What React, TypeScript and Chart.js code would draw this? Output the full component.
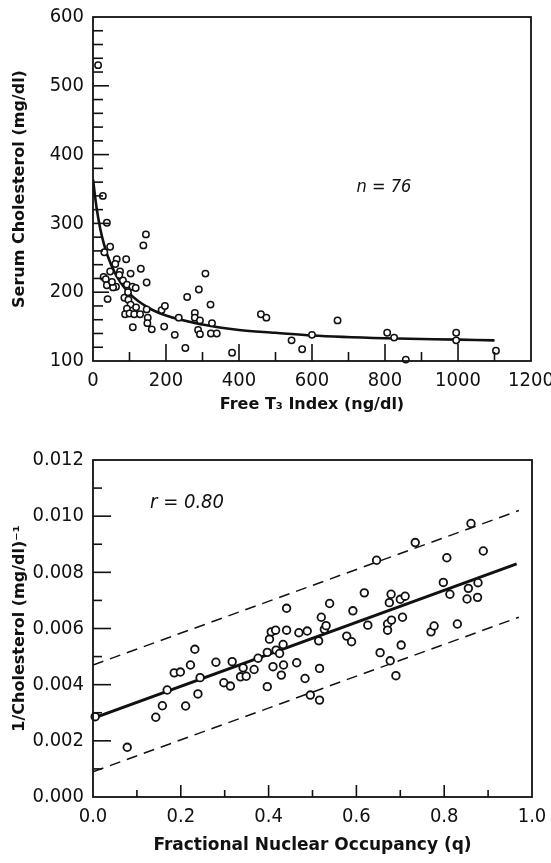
import React, { useEffect, useRef } from "react";
import { Chart, registerables } from "chart.js";
Chart.register(...registerables);

// ---------- Top panel data ----------
const freeT3Index = [14, 27, 38, 47, 31, 65, 91, 61, 47, 74, 103, 131, 29, 35, 38, 63, 55, 82, 93, 108, 117, 147, 138, 145, 40, 86, 97, 103, 93, 88, 100, 113, 129, 109, 147, 150, 149, 161, 188, 197, 195, 224, 235, 253, 258, 279, 279, 293, 288, 293, 290, 308, 322, 326, 323, 339, 381, 460, 475, 544, 573, 600, 670, 806, 825, 995, 995, 857, 1104, 72, 96, 118, 52];
const serumChol = [530, 340, 301, 266, 258, 248, 248, 241, 230, 230, 227, 234, 222, 219, 210, 208, 207, 217, 211, 208, 206, 214, 268, 284, 190, 192, 189, 182, 176, 168, 169, 168, 168, 149, 175, 163, 155, 146, 174, 180, 150, 138, 163, 119, 193, 170, 163, 159, 145, 139, 204, 227, 182, 155, 140, 140, 112, 168, 163, 130, 117, 138, 159, 141, 134, 141, 130, 102, 115, 225, 200, 178, 215];
const fitX = [0, 10, 20, 30, 40, 60, 80, 100, 150, 200, 300, 400, 500, 600, 800, 1000, 1100];
const fitY = [364, 322, 292, 270, 253, 228, 211, 198, 178, 166, 153, 145, 141, 137, 133, 131, 130];
const topXTicks = [0, 200, 400, 600, 800, 1000, 1200];
const topYTicks = [100, 200, 300, 400, 500, 600];

// ---------- Bottom panel data ----------
const occupancy = [0.005, 0.078, 0.143, 0.158, 0.169, 0.185, 0.199, 0.211, 0.222, 0.232, 0.239, 0.244, 0.28, 0.298, 0.313, 0.317, 0.336, 0.342, 0.349, 0.367, 0.376, 0.397, 0.397, 0.402, 0.406, 0.416, 0.41, 0.417, 0.425, 0.433, 0.434, 0.429, 0.441, 0.441, 0.464, 0.469, 0.488, 0.483, 0.495, 0.516, 0.516, 0.514, 0.52, 0.527, 0.531, 0.539, 0.578, 0.589, 0.592, 0.618, 0.626, 0.646, 0.654, 0.671, 0.671, 0.68, 0.677, 0.69, 0.679, 0.675, 0.7, 0.711, 0.705, 0.702, 0.734, 0.77, 0.777, 0.798, 0.806, 0.813, 0.83, 0.852, 0.855, 0.861, 0.876, 0.877, 0.889];
const invCholesterol = [0.00286, 0.00177, 0.00284, 0.00325, 0.00381, 0.00442, 0.00445, 0.00324, 0.0047, 0.00526, 0.00367, 0.00425, 0.0048, 0.00407, 0.00395, 0.00482, 0.00428, 0.0046, 0.0043, 0.00454, 0.00494, 0.00393, 0.00515, 0.00562, 0.00588, 0.00594, 0.00464, 0.00523, 0.00511, 0.00543, 0.0047, 0.00434, 0.00594, 0.00672, 0.00478, 0.00585, 0.00591, 0.00422, 0.00363, 0.00345, 0.00458, 0.00556, 0.0064, 0.00597, 0.0061, 0.00689, 0.00573, 0.00553, 0.00663, 0.00727, 0.00612, 0.00843, 0.00514, 0.00616, 0.00594, 0.0063, 0.00485, 0.00432, 0.00722, 0.00692, 0.00704, 0.00715, 0.0064, 0.00541, 0.00906, 0.00588, 0.00609, 0.00764, 0.00852, 0.00722, 0.00616, 0.00705, 0.00743, 0.00974, 0.00711, 0.00763, 0.00876];
const regX = [0, 0.965];
const regY = [0.0028, 0.0083];
const bandX = [0, 0.97];
const upperY = [0.0047, 0.0102];
const lowerY = [0.0009, 0.0064];
const bottomXTicks = [0, 0.2, 0.4, 0.6, 0.8, 1];
const bottomYTicks = [0, 0.002, 0.004, 0.006, 0.008, 0.01, 0.012];

const TICK_FONT = '"DejaVu Sans Condensed", "Liberation Sans Narrow", sans-serif';
const TITLE_FONT = '"DejaVu Sans", Verdana, sans-serif';
const INK = "#111";

const zip = (xs: number[], ys: number[]) => xs.map((x, i) => ({ x, y: ys[i] }));

// Draws the frame, inward tick marks and the annotation text
const framePlugin = {
  id: "framePlugin",
  afterDraw(chart: any, _args: any, opts: any) {
    const { ctx, chartArea: a, scales } = chart;
    const xs = scales.x;
    const ys = scales.y;
    ctx.save();
    ctx.strokeStyle = INK;
    ctx.lineWidth = 1.8;
    ctx.strokeRect(a.left, a.top, a.right - a.left, a.bottom - a.top);
    ctx.lineWidth = 1.6;
    const drawTicks = (spec: any, horizontal: boolean) => {
      const n = Math.round((spec.max - spec.min) / spec.minor);
      for (let i = 1; i < n; i++) {
        const v = spec.min + i * spec.minor;
        const major = i % spec.ratio === 0;
        const len = major ? spec.majorLen : spec.minorLen;
        ctx.beginPath();
        if (horizontal) {
          const px = xs.getPixelForValue(v);
          ctx.moveTo(px, a.bottom);
          ctx.lineTo(px, a.bottom - len);
        } else {
          const py = ys.getPixelForValue(v);
          ctx.moveTo(a.left, py);
          ctx.lineTo(a.left + len, py);
        }
        ctx.stroke();
      }
    };
    drawTicks(opts.xTicks, true);
    drawTicks(opts.yTicks, false);
    if (opts.label) {
      ctx.fillStyle = INK;
      ctx.font = opts.label.font;
      ctx.textAlign = "left";
      ctx.textBaseline = "middle";
      ctx.fillText(opts.label.text, xs.getPixelForValue(opts.label.x), ys.getPixelForValue(opts.label.y));
    }
    ctx.restore();
  },
};

function baseScale(extra: any) {
  return {
    type: "linear",
    grid: { display: false, drawTicks: false },
    border: { display: false },
    ...extra,
  };
}

function TopChart() {
  const ref = useRef<HTMLCanvasElement>(null);
  useEffect(() => {
    const chart = new Chart(ref.current as HTMLCanvasElement, {
      type: "scatter",
      data: {
        datasets: [
          {
            data: zip(freeT3Index, serumChol),
            pointRadius: 3.2,
            pointBorderWidth: 1.5,
            pointBackgroundColor: "#fff",
            pointBorderColor: INK,
            showLine: false,
            clip: false as any,
          },
          {
            data: zip(fitX, fitY),
            showLine: true,
            pointRadius: 0,
            borderColor: INK,
            borderWidth: 2.6,
            cubicInterpolationMode: "monotone",
          },
        ],
      },
      options: {
        responsive: false,
        animation: false,
        events: [],
        layout: { padding: { top: 17, right: 20, left: 0, bottom: 0 } },
        plugins: {
          legend: { display: false },
          tooltip: { enabled: false },
          framePlugin: {
            xTicks: { min: 0, max: 1200, minor: 100, ratio: 2, majorLen: 17, minorLen: 9 },
            yTicks: { min: 100, max: 600, minor: 20, ratio: 5, majorLen: 16, minorLen: 10 },
            label: { text: "n = 76", x: 722, y: 352, font: `italic 18px ${TICK_FONT}` },
          },
        } as any,
        scales: {
          x: baseScale({
            min: 0,
            max: 1200,
            afterBuildTicks: (s: any) => { s.ticks = topXTicks.map((v) => ({ value: v })); },
            afterFit: (s: any) => { s.height = 69; s.paddingLeft = 0; s.paddingRight = 0; },
            ticks: {
              color: INK,
              font: { family: TICK_FONT, size: 20 },
              padding: 8,
              maxRotation: 0,
              autoSkip: false,
              callback: (v: any) => String(v),
            },
            title: {
              display: true,
              text: "Free T\u2083 Index (ng/dl)",
              color: INK,
              font: { family: TITLE_FONT, size: 16, weight: "bold" },
              padding: { top: 0, bottom: 16 },
            },
          }),
          y: baseScale({
            min: 100,
            max: 600,
            afterBuildTicks: (s: any) => { s.ticks = topYTicks.map((v) => ({ value: v })); },
            afterFit: (s: any) => { s.width = 93; s.paddingTop = 0; s.paddingBottom = 0; },
            ticks: { color: INK, font: { family: TICK_FONT, size: 20 }, padding: 9, callback: (v: any) => String(v) },
            title: {
              display: true,
              text: "Serum Cholesterol (mg/dl)",
              color: INK,
              font: { family: TITLE_FONT, size: 16, weight: "bold" },
              padding: { top: 10, bottom: 0 },
            },
          }),
        },
      } as any,
      plugins: [framePlugin],
    });
    return () => chart.destroy();
  }, []);
  return <canvas ref={ref} width={551} height={430} style={{ display: "block" }} />;
}

function BottomChart() {
  const ref = useRef<HTMLCanvasElement>(null);
  useEffect(() => {
    const chart = new Chart(ref.current as HTMLCanvasElement, {
      type: "scatter",
      data: {
        datasets: [
          {
            data: zip(occupancy, invCholesterol),
            pointRadius: 3.8,
            pointBorderWidth: 1.8,
            pointBackgroundColor: "#fff",
            pointBorderColor: INK,
            showLine: false,
            clip: false as any,
          },
          {
            data: zip(regX, regY),
            showLine: true,
            pointRadius: 0,
            borderColor: INK,
            borderWidth: 3,
          },
          {
            data: zip(bandX, upperY),
            showLine: true,
            pointRadius: 0,
            borderColor: INK,
            borderWidth: 1.5,
            borderDash: [11, 7],
          },
          {
            data: zip(bandX, lowerY),
            showLine: true,
            pointRadius: 0,
            borderColor: INK,
            borderWidth: 1.5,
            borderDash: [11, 7],
          },
        ],
      },
      options: {
        responsive: false,
        animation: false,
        events: [],
        layout: { padding: { top: 30, right: 19, left: 0, bottom: 0 } },
        plugins: {
          legend: { display: false },
          tooltip: { enabled: false },
          framePlugin: {
            xTicks: { min: 0, max: 1, minor: 0.1, ratio: 2, majorLen: 12, minorLen: 7 },
            yTicks: { min: 0, max: 0.012, minor: 0.001, ratio: 2, majorLen: 18, minorLen: 9 },
            label: { text: "r = 0.80", x: 0.13, y: 0.01046, font: `italic 20px ${TICK_FONT}` },
          },
        } as any,
        scales: {
          x: baseScale({
            min: 0,
            max: 1,
            afterBuildTicks: (s: any) => { s.ticks = bottomXTicks.map((v) => ({ value: v })); },
            afterFit: (s: any) => { s.height = 66; s.paddingLeft = 0; s.paddingRight = 0; },
            ticks: {
              color: INK,
              font: { family: TICK_FONT, size: 20 },
              padding: 8,
              maxRotation: 0,
              autoSkip: false,
              callback: (v: any) => Number(v).toFixed(1),
            },
            title: {
              display: true,
              text: "Fractional Nuclear Occupancy (q)",
              color: INK,
              font: { family: TITLE_FONT, size: 17, weight: "bold" },
              padding: { top: 0, bottom: 7 },
            },
          }),
          y: baseScale({
            min: 0,
            max: 0.012,
            afterBuildTicks: (s: any) => { s.ticks = bottomYTicks.map((v) => ({ value: v })); },
            afterFit: (s: any) => { s.width = 93; s.paddingTop = 0; s.paddingBottom = 0; },
            ticks: {
              color: INK,
              font: { family: TICK_FONT, size: 20 },
              padding: 9,
              callback: (v: any) => Number(v).toFixed(3),
            },
            title: {
              display: true,
              text: "1/Cholesterol (mg/dl)\u207B\u00B9",
              color: INK,
              font: { family: TITLE_FONT, size: 16, weight: "bold" },
              padding: { top: 10, bottom: 0 },
            },
          }),
        },
      } as any,
      plugins: [framePlugin],
    });
    return () => chart.destroy();
  }, []);
  return <canvas ref={ref} width={551} height={433} style={{ display: "block" }} />;
}

export default function App() {
  return (
    <div style={{ position: "absolute", left: 0, top: 0, width: 551, height: 863, background: "#fff" }}>
      <TopChart />
      <BottomChart />
    </div>
  );
}
